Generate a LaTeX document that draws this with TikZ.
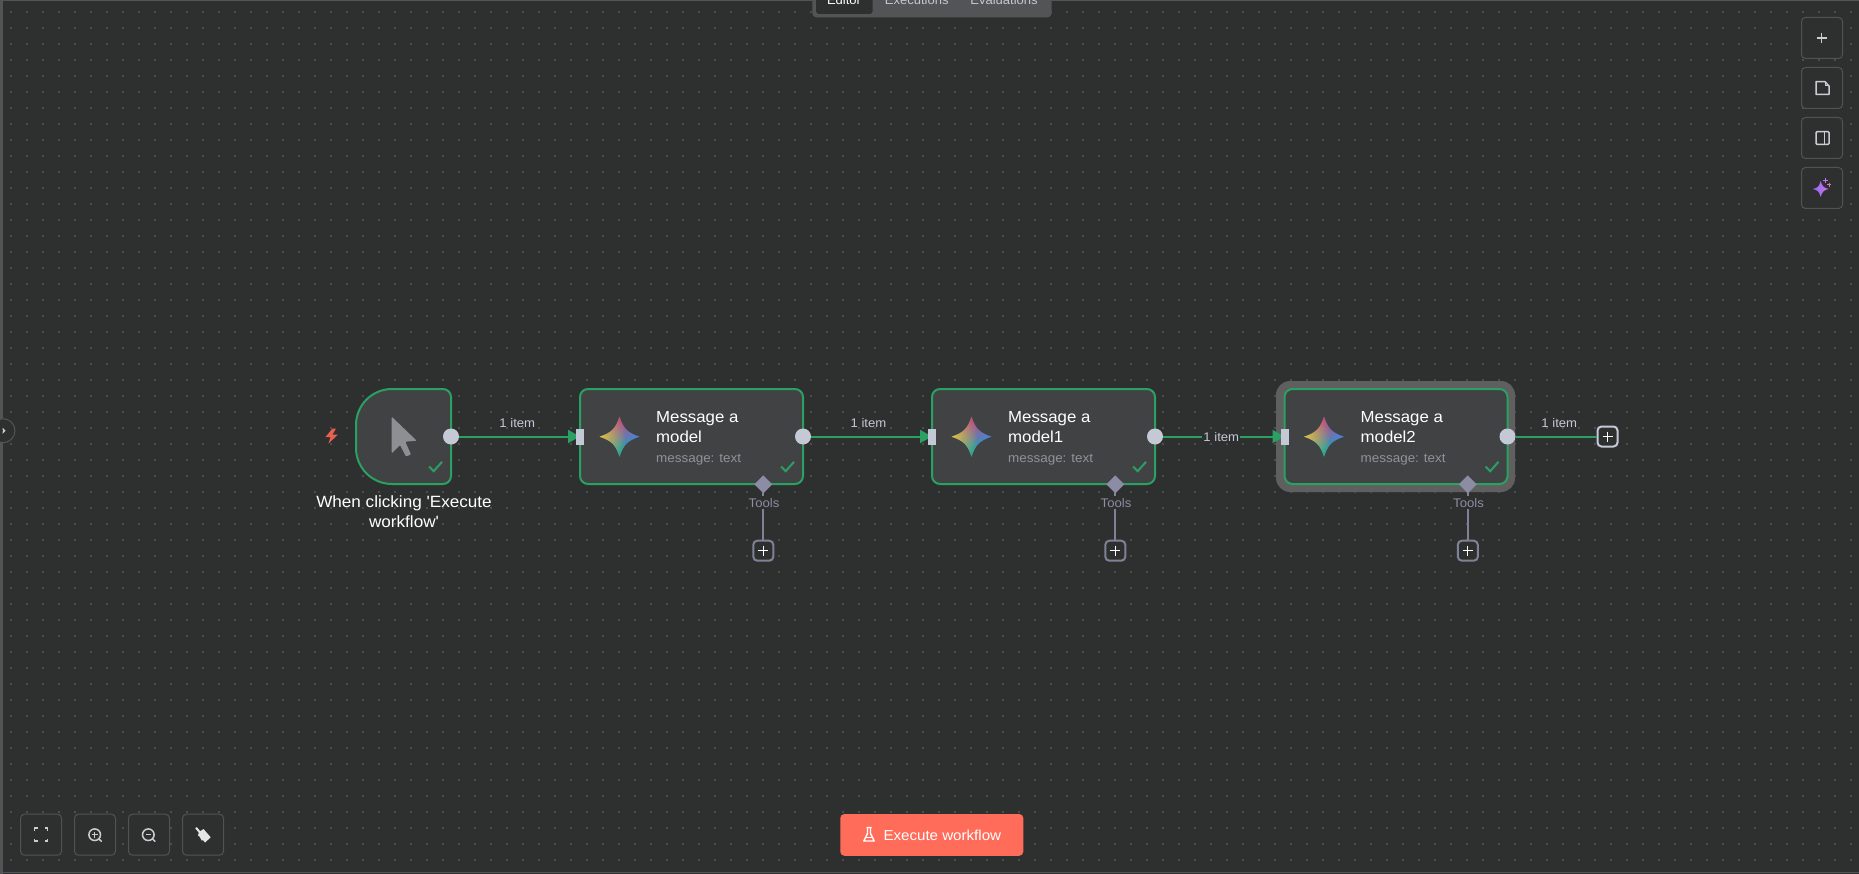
\documentclass[tikz,border=0pt]{standalone}
\usepackage{fontspec}
\usetikzlibrary{arrows.meta,fadings,shapes.geometric,calc}
\newfontfamily\uifont[FakeStretch=1.05]{Liberation Sans}
\definecolor{canvasbg}{HTML}{2E3030}
\definecolor{griddot}{HTML}{4C4E4E}
\definecolor{edgegreen}{HTML}{2AA062}
\definecolor{nodefill}{HTML}{414244}
\definecolor{portcol}{HTML}{C5C9D6}
\definecolor{toolcol}{HTML}{7F8196}
\definecolor{diamondcol}{HTML}{8A8DA3}
\definecolor{btnborder}{HTML}{505254}
\definecolor{iconcol}{HTML}{CBCDD2}
\definecolor{subcol}{HTML}{8F929B}
\definecolor{labelcol}{HTML}{C4C8D4}
\definecolor{halocol}{HTML}{5F5F5F}
\definecolor{barcol}{HTML}{525456}
\definecolor{brandred}{HTML}{FF6D5A}
\tikzfading[name=softspot,inner color=transparent!0,outer color=transparent!100]
\tikzset{
  uitext/.style={inner sep=0pt,text=white,font=\uifont\fontsize{16.3}{20}\selectfont},
  titletext/.style={uitext,font=\uifont\fontsize{16}{20}\selectfont,anchor=west,align=left},
  subtext/.style={uitext,anchor=west,text=subcol,font=\uifont\fontsize{12.8}{15}\selectfont},
  edgelabel/.style={uitext,text=labelcol,font=\uifont\fontsize{12.5}{15}\selectfont},
  toollabel/.style={edgelabel,text=diamondcol},
  tablabel/.style={uitext,text=labelcol,font=\uifont\fontsize{12.4}{15}\selectfont,anchor=base},
  wfnode/.style={draw=edgegreen,fill=nodefill,line width=2pt,rounded corners=8pt,minimum width=223pt,minimum height=95pt,inner sep=0pt},
  outport/.style={circle,fill=portcol,minimum size=16pt,inner sep=0pt},
  inport/.style={rectangle,fill=portcol,minimum width=8pt,minimum height=16pt,inner sep=0pt},
  toolport/.style={diamond,fill=diamondcol,minimum size=18pt,inner sep=0pt},
  plusbox/.style={draw=#1,fill=canvasbg,line width=2pt,rounded corners=4pt,minimum size=20pt,inner sep=0pt},
  mainedge/.style={draw=edgegreen,line width=2pt},
  toedge/.style={mainedge,-{Triangle[length=12pt,width=13pt]}},
  tooledge/.style={draw=toolcol,line width=2pt},
  checkmark/.style={draw=edgegreen,line width=2pt},
  toolbtn/.style={draw=btnborder,fill=canvasbg,line width=1pt,rounded corners=4pt,minimum size=41pt,inner sep=0pt},
  iconline/.style={draw=iconcol,line width=1.5pt},
}
\newcommand{\gemstar}[2]{%
  \begin{scope}[shift={(#1,#2)}]
    \clip (0,-20) .. controls (4,-8) and (8,-4) .. (20,0)
       .. controls (8,4) and (4,8) .. (0,20)
       .. controls (-4,8) and (-8,4) .. (-20,0)
       .. controls (-8,-4) and (-4,-8) .. (0,-20) -- cycle;
    \fill[color={rgb,255:red,58;green,134;blue,247}] (-21,-21) rectangle (21,21);
    \fill[color={rgb,255:red,38;green,175;blue,96},path fading=softspot] (-2,26) circle (36);
    \fill[color={rgb,255:red,240;green,60;blue,70},path fading=softspot] (-2,-26) circle (36);
    \fill[color={rgb,255:red,255;green,205;blue,30},path fading=softspot] (-24,0) circle (30);
  \end{scope}}
\newcommand{\plussign}[3]{% x y color
  \draw[draw=#3,line width=1.3pt] (#1-5,#2) -- (#1+5,#2) (#1,#2-5) -- (#1,#2+5);}
\newcommand{\okmark}[2]{\draw[checkmark] (#1-22,#2-17.5) -- (#1-17.3,#2-12.8) -- (#1-9,#2-22.2);}
% name suffix, centre x, second title line
\newcommand{\msgnode}[3]{%
  \node[wfnode] (node#1) at (#2,436.5) {};
  \gemstar{#2-72}{436.7}
  \node[titletext] (title#1) at (#2-35.5,427.5) {Message a\\#3};
  \node[subtext] (sub#1) at (#2-35.5,460) {message: text};
  \okmark{#2+111.5}{484}
  \node[inport] (in#1) at (#2-111.5,436.5) {};
  \node[outport] (out#1) at (#2+111.5,436.5) {};
  \node[plusbox=toolcol] (plus#1) at (#2+71.8,550.7) {};
  \plussign{#2+71.8}{550.7}{white}
  \draw[tooledge] (#2+71.8,484.3) -- (plus#1.north);
  \node[toolport] (tool#1) at (#2+71.8,484.3) {};
  \node[toollabel,fill=canvasbg,inner xsep=1pt,inner ysep=2pt] (toollab#1) at (#2+72.5,502.7) {Tools};
}
\begin{document}
\begin{tikzpicture}[x=1pt,y=-1pt]
\useasboundingbox (0,0) rectangle (1859,874);
% canvas
\fill[canvasbg] (0,0) rectangle (1859,874);
\foreach \r in {0,...,54}{
  \draw[griddot,line width=2pt,dash pattern=on 2pt off 14pt] (9.7,12+16*\r) -- (1859,12+16*\r);
}
% window edges
\fill[color=barcol] (0,0) rectangle (1859,1);
\fill[color=barcol] (0,0) rectangle (3,874);
\fill[color=barcol] (0,872) rectangle (1859,873);
% sidebar toggle
\node[circle,draw=barcol,fill=canvasbg,line width=1pt,minimum size=24pt,inner sep=0pt] (toggle) at (3,430.7) {};
\fill[iconcol] (2.5,427.5) -- (5.5,430.7) -- (2.5,434) -- (2.5,432) -- (3.3,430.7) -- (2.5,429.5) -- cycle;
% top tabs
\fill[color=barcol,rounded corners=4pt] (812.3,-8) rectangle (1051.7,17.3);
\fill[color=canvasbg,rounded corners=3pt] (816,-8) rectangle (872.7,14);
\node[tablabel,text=white] (tabeditor) at (844,4.5) {Editor};
\node[tablabel] (tabexec) at (916.7,4.5) {Executions};
\node[tablabel] (tabeval) at (1004,4.5) {Evaluations};
% halo
\fill[color=halocol,rounded corners=14pt] (1276,381) rectangle (1515,492);
% trigger
\node[minimum width=95pt,minimum height=95pt,inner sep=0pt] (trigger) at (403.5,436.5) {};
\draw[draw=edgegreen,fill=nodefill,line width=2pt] (392,389) -- (443,389)
  .. controls (447.4,389) and (451,392.6) .. (451,397) -- (451,476)
  .. controls (451,480.4) and (447.4,484) .. (443,484) -- (392,484)
  .. controls (372.1,484) and (356,467.9) .. (356,448) -- (356,425)
  .. controls (356,405.1) and (372.1,389) .. (392,389) -- cycle;
\fill[color={rgb,255:red,142;green,143;blue,147},rounded corners=1pt]
  (391.7,416.7) -- (391.7,453.3) -- (400,445) -- (406,456.5) -- (411,454.5) -- (405.3,441.7) -- (416.7,440.7) -- cycle;
\okmark{451}{484}
\fill[color={rgb,255:red,232;green,96;blue,79}]
  (332.5,428.5) -- (325.5,437) -- (330.5,437) -- (328.5,443.5) -- (338,434.5) -- (332.5,434.5) -- (336,428.5) -- cycle;
\node[uitext,align=center] (triggerlabel) at (404,511.7) {When clicking \symbol{39}Execute\\workflow\symbol{39}};
\node[outport] (outT) at (451,436.5) {};
% nodes
\msgnode{A}{691.5}{model}
\msgnode{B}{1043.5}{model1}
\msgnode{C}{1396}{model2}
% connectors
\draw[toedge] (outT) -- (inA.center);
\draw[toedge] (outA) -- (inB.center);
\draw[toedge] (outB) -- (inC.center);
\node[plusbox=portcol] (plusEnd) at (1607.5,436.5) {};
\plussign{1607.5}{436.5}{white}
\draw[mainedge] (outC) -- (plusEnd.west);
\node[inport] at (inA) {};
\node[inport] at (inB) {};
\node[inport] at (inC) {};
\node[edgelabel] (lab1) at (517.3,423) {1 item};
\node[edgelabel] (lab2) at (868.5,423) {1 item};
\node[edgelabel,fill=canvasbg,inner xsep=1pt,inner ysep=2pt] (lab3) at (1221.3,436.7) {1 item};
\node[edgelabel] (lab4) at (1559.3,423) {1 item};
% right buttons
\node[toolbtn] (addbtn) at (1822,38) {};
\node[toolbtn] (notebtn) at (1822,88) {};
\node[toolbtn] (panelbtn) at (1822,138) {};
\node[toolbtn] (aibtn) at (1822,188) {};
\plussign{1821.7}{38}{iconcol}
\draw[iconline,line join=round] (1825,81.7) -- (1816,81.7) -- (1816,94.3) -- (1829,94.3) -- (1829,86) -- cycle;
\draw[draw=iconcol,line width=1pt] (1825.5,82.5) -- (1825.5,85.5) -- (1828.5,85.5);
\draw[iconline,rounded corners=1pt] (1816,131.7) rectangle (1829,144.3);
\draw[iconline] (1824.3,131.7) -- (1824.3,144.3);
\shade[left color={rgb,255:red,140;green,110;blue,248},right color={rgb,255:red,212;green,112;blue,226}]
  (1820.7,181) .. controls (1822,186) and (1823.5,188) .. (1828.6,189)
  .. controls (1823.5,190) and (1822,192) .. (1820.7,197)
  .. controls (1819.4,192) and (1817.9,190) .. (1812.8,189)
  .. controls (1817.9,188) and (1819.4,186) .. (1820.7,181) -- cycle;
\draw[color={rgb,255:red,190;green,120;blue,240},line width=1pt] (1823.2,181) -- (1828.2,181) (1825.7,178.5) -- (1825.7,183.5);
\draw[color={rgb,255:red,224;green,112;blue,192},line width=1pt] (1827.4,185) -- (1831.2,185) (1829.3,183.1) -- (1829.3,186.9);
% bottom left buttons
\node[toolbtn] (fitbtn) at (41,834.7) {};
\node[toolbtn] (zoominbtn) at (95,834.7) {};
\node[toolbtn] (zoomoutbtn) at (149,834.7) {};
\node[toolbtn] (tidybtn) at (203,834.7) {};
\draw[iconline] (34.5,831) -- (34.5,828.2) -- (37.5,828.2) (44.5,828.2) -- (47.5,828.2) -- (47.5,831)
  (47.5,838.5) -- (47.5,841.2) -- (44.5,841.2) (37.5,841.2) -- (34.5,841.2) -- (34.5,838.5);
\draw[iconline] (94.7,834.7) circle (5.8);
\draw[iconline] (98.8,838.8) -- (101.7,841.6);
\draw[draw=iconcol,line width=1pt] (91.9,834.7) -- (97.5,834.7) (94.7,831.9) -- (94.7,837.5);
\draw[iconline] (148.3,834.7) circle (5.8);
\draw[iconline] (152.4,838.8) -- (155.3,841.6);
\draw[draw=iconcol,line width=1pt] (145.5,834.7) -- (151.1,834.7);
\draw[color=white!90!black,line width=2pt] (196,827.7) -- (200,832.5);
\fill[color=white!90!black] (199,832) -- (203.5,829) -- (210.7,837.3) -- (205,842.5) -- (203,840) -- (201.8,840.6) -- (199.5,836.5) -- (198,835.5) -- cycle;
% execute button
\node[fill=brandred,rounded corners=4pt,minimum width=183pt,minimum height=41.7pt,inner sep=0pt] (execbtn) at (931.8,834.9) {};
\draw[draw=white,line width=1.4pt,line join=round] (866.5,827.5) -- (871.5,827.5) (867.5,827.5) -- (867.5,833.5) -- (863.8,841) -- (874.2,841) -- (870.5,833.5) -- (870.5,827.5);
\draw[draw=white,line width=1pt] (865.5,837.5) -- (872.5,837.5);
\node[uitext,font=\uifont\fontsize{14.4}{16}\selectfont,anchor=west] (exectext) at (883.3,835) {Execute workflow};
\end{tikzpicture}
\end{document}
